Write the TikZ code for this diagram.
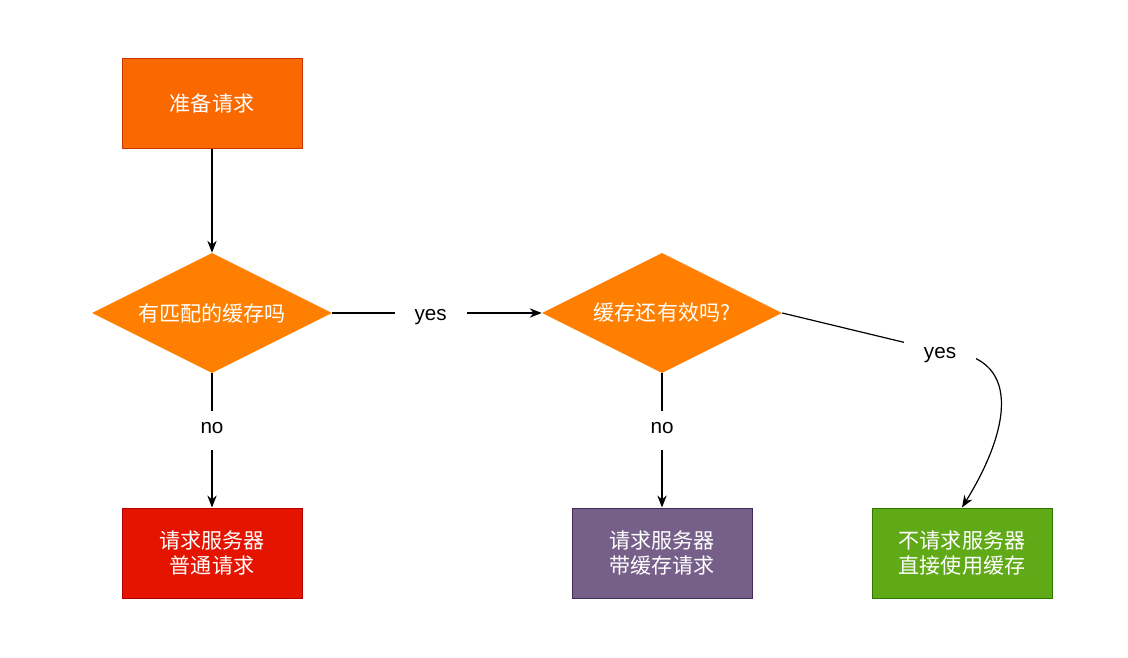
\documentclass[tikz,border=0pt]{standalone}
\usepackage{fontspec}
\setmainfont{Liberation Sans}
\newfontfamily\cjk{Noto Sans CJK SC}
\usetikzlibrary{shapes.geometric,arrows.meta}
\definecolor{orangeA}{HTML}{FA6800}
\definecolor{orangeS}{HTML}{C73500}
\definecolor{orangeD}{HTML}{FF8000}
\definecolor{redA}{HTML}{E51400}
\definecolor{redS}{HTML}{B20000}
\definecolor{purpA}{HTML}{76608A}
\definecolor{purpS}{HTML}{432D57}
\definecolor{greenA}{HTML}{60A917}
\definecolor{greenS}{HTML}{2D7600}
\begin{document}
\begin{tikzpicture}[x=0.75pt,y=-0.75pt,
  box/.style={draw, line width=0.75pt, minimum width=135pt, minimum height=67.5pt, inner sep=0pt, text=white, align=center, font=\cjk\fontsize{15.8}{18.5}\selectfont},
  dia/.style={diamond, fill=orangeD, draw=none, minimum width=180pt, minimum height=90pt, inner sep=0pt, aspect=2, text=white, font=\cjk\fontsize{15.8}{18.5}\selectfont},
  conn/.style={line width=0.9pt, -{Stealth[length=9pt,width=7pt]}},
  lbl/.style={fill=white, inner xsep=15pt, inner ysep=12pt, text height=1ex, text depth=0pt, yshift=-3pt, font=\fontsize{15.5}{18}\selectfont}
]
\useasboundingbox (0,0) rectangle (1128,657);
\node[box, fill=orangeA, draw=orangeS] (start) at (212,103) {准备请求};
\node[dia] (d1) at (212,313) {有匹配的缓存吗};
\node[dia] (d2) at (662,313) {缓存还有效吗?};
\node[box, fill=redA, draw=redS] (r1) at (212,553) {请求服务器\\普通请求};
\node[box, fill=purpA, draw=purpS] (r2) at (662,553) {请求服务器\\带缓存请求};
\node[box, fill=greenA, draw=greenS] (r3) at (962,553) {不请求服务器\\直接使用缓存};
\coordinate (yc) at (940,351);
\draw[conn] (start) -- (d1.north);
\draw[conn] (d1.east) -- node[lbl, pos=0.47] (y1) {yes} (d2.west);
\draw[conn] (d1.south) -- node[lbl, pos=0.395] (n1) {no} (r1.north);
\draw[conn] (d2.south) -- node[lbl, pos=0.395] (n2) {no} (r2.north);
\draw[conn] (d2.east) -- (yc) .. controls (1025,353) and (1010,430) .. (r3.north);
\node[lbl] (y2) at (yc) {yes};
\end{tikzpicture}
\end{document}
